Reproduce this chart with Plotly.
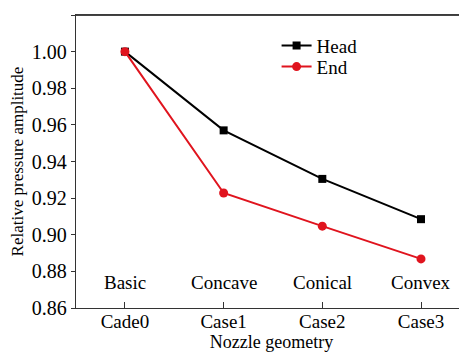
import plotly.graph_objects as go

categories = ["Cade0", "Case1", "Case2", "Case3"]
geometry_labels = ["Basic", "Concave", "Conical", "Convex"]
head = [1.000, 0.957, 0.9305, 0.9085]
end = [1.000, 0.9228, 0.9047, 0.8868]
y_ticks = [0.86, 0.88, 0.90, 0.92, 0.94, 0.96, 0.98, 1.00, 1.02]

FONT = "Liberation Serif"
idx = list(range(len(categories)))

fig = go.Figure()
fig.add_trace(go.Scatter(
    x=idx, y=head, name="Head", mode="lines+markers", legend="legend",
    line=dict(color="black", width=2),
    marker=dict(symbol="square", size=8, color="black"),
))
fig.add_trace(go.Scatter(
    x=idx, y=end, name="End", mode="lines+markers", legend="legend2",
    line=dict(color="#e0141e", width=2),
    marker=dict(symbol="circle", size=9, color="#e0141e"),
))

for i, lab in enumerate(geometry_labels):
    fig.add_annotation(x=i, y=0.8742, text=lab, showarrow=False,
                       font=dict(family=FONT, size=19, color="black"))

# top frame line
fig.add_shape(type="line", xref="paper", yref="paper", x0=0, x1=1, y0=0.999, y1=0.999,
              line=dict(color="#444", width=1.6), layer="above")

leg_common = dict(xanchor="left", yanchor="middle", bgcolor="rgba(0,0,0,0)",
                  font=dict(family=FONT, size=19), itemwidth=30)

# page body has an 8px margin, so the figure is shrunk by 8px and margins adjusted
fig.update_layout(
    width=459, height=350,
    margin=dict(l=68, r=0, t=7, b=50),
    paper_bgcolor="white", plot_bgcolor="white",
    font=dict(family=FONT, size=18, color="black"),
    showlegend=True,
    legend=dict(x=0.513, y=0.895, **leg_common),
    legend2=dict(x=0.513, y=0.8235, **leg_common),
)
fig.update_xaxes(
    range=[-0.496, 3.466], tickmode="array", tickvals=idx, ticktext=categories,
    showgrid=False, zeroline=False, showline=True, linecolor="#333", linewidth=1.3,
    mirror=True,
    ticks="inside", ticklen=6, tickcolor="#333", automargin=False,
    ticklabelstandoff=-4,
    title=dict(text="Nozzle geometry", standoff=1, font=dict(family=FONT, size=18)),
    tickfont=dict(family=FONT, size=19),
)
fig.update_yaxes(
    range=[0.86, 1.02], tickmode="array", tickvals=y_ticks,
    ticktext=[f"{v:.2f}" for v in y_ticks],
    showgrid=False, zeroline=False, showline=True, linecolor="#333", linewidth=1.3,
    ticks="outside", ticklen=4, tickcolor="#333", automargin=False,
    title=dict(text="Relative pressure amplitude", standoff=4, font=dict(family=FONT, size=17)),
    tickfont=dict(family=FONT, size=20),
)

fig.write_html("out.html")
